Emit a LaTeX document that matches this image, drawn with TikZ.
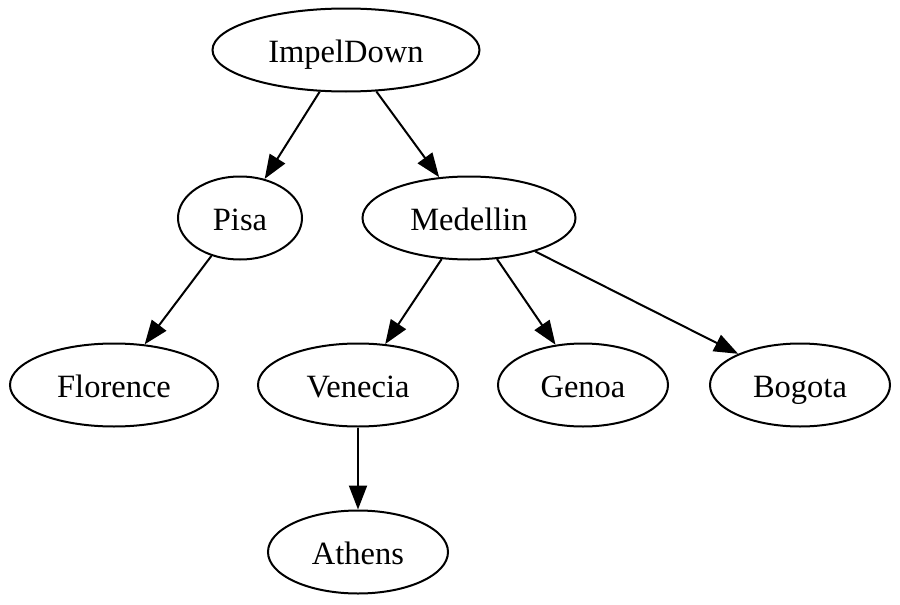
\documentclass[tikz,border=0pt]{standalone}
\usepackage{fontspec}
\setmainfont{Liberation Serif}
\usepackage{tikz}
\usetikzlibrary{shapes.geometric, arrows.meta, positioning}
\tikzset{
  city/.style={ellipse, draw, line width=2pt, inner sep=0pt,
    minimum height=83pt, text height=30pt, text depth=6pt,
    font=\fontsize{32.5}{39}\selectfont},
  arrow/.style={-{Triangle[length=24pt, width=18pt]}, line width=2pt},
}

\begin{document}
\begin{tikzpicture}[x=1pt, y=-1pt]
  \useasboundingbox (0,0) rectangle (900,605);
  \node[city, minimum width=267pt] (impel) at (346,50) {ImpelDown};
  \node[city, minimum width=124pt] (pisa) at (240,218) {Pisa};
  \node[city, minimum width=213pt] (medellin) at (469,218) {Medellin};
  \node[city, minimum width=208pt] (florence) at (114,385) {Florence};
  \node[city, minimum width=200pt] (venecia) at (358,385) {Venecia};
  \node[city, minimum width=170pt] (genoa) at (583,385) {Genoa};
  \node[city, minimum width=180pt] (bogota) at (800,385) {Bogota};
  \node[city, minimum width=180pt] (athens) at (358,552) {Athens};
  \draw[arrow] (impel) -- (pisa);
  \draw[arrow] (impel) -- (medellin);
  \draw[arrow] (pisa) -- (florence);
  \draw[arrow] (medellin) -- (venecia);
  \draw[arrow] (medellin) -- (genoa);
  \draw[arrow] (medellin) -- (bogota);
  \draw[arrow] (venecia) -- (athens);
\end{tikzpicture}
\end{document}
